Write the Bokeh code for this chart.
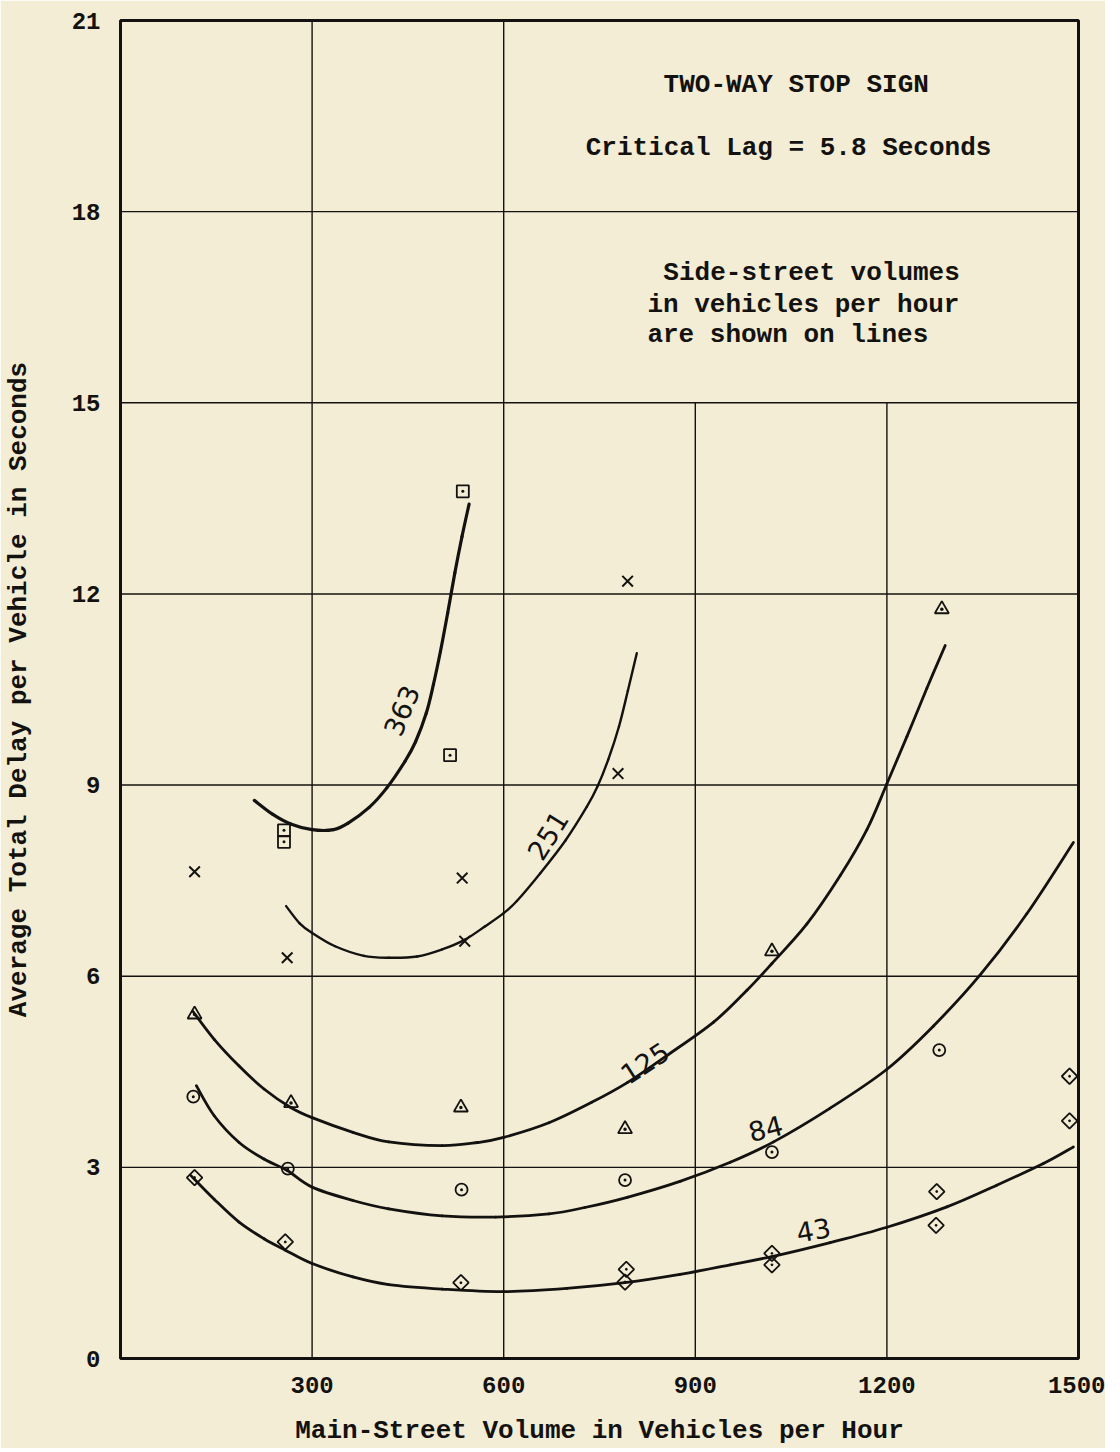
import math
from bokeh.plotting import figure
from bokeh.models import Range1d, FixedTicker, Label
from bokeh.embed import file_html
from bokeh.resources import INLINE

# ---------------- data ----------------
x_ticks = [300, 600, 900, 1200, 1500]
y_ticks = [0, 3, 6, 9, 12, 15, 18, 21]

# smooth curves (side-street volume on each line)
c363_x = [209.5, 238.5, 266.5, 300, 333.5, 355.9, 389.4, 417.3, 445.3, 462, 478.8, 490, 501, 512.3, 523.5, 534.7, 545.8]
c363_y = [8.76, 8.54, 8.39, 8.30, 8.30, 8.40, 8.65, 8.96, 9.37, 9.68, 10.13, 10.58, 11.10, 11.70, 12.33, 12.90, 13.41]

c251_x = [259.3, 280.5, 300, 336, 381, 420, 464.5, 503.5, 538.7, 570.4, 600, 620.6, 657.6, 696.7, 730.2, 747, 763.7, 780.5, 794.4, 808.4]
c251_y = [7.10, 6.83, 6.68, 6.47, 6.32, 6.29, 6.31, 6.42, 6.57, 6.78, 6.99, 7.18, 7.62, 8.13, 8.66, 8.98, 9.40, 9.92, 10.48, 11.07]

c125_x = [113.2, 146.7, 185.7, 224.7, 266.5, 300, 364, 420, 503.5, 559, 600, 670.8, 737.7, 793.5, 854.8, 928.7, 980.9, 1020, 1074.8, 1127, 1168.7, 1200, 1231.3, 1262.6, 1291.3]
c125_y = [5.45, 5.01, 4.59, 4.23, 3.94, 3.78, 3.55, 3.40, 3.34, 3.39, 3.47, 3.70, 4.02, 4.33, 4.75, 5.28, 5.78, 6.20, 6.82, 7.58, 8.30, 9.02, 9.76, 10.52, 11.19]

c84_x = [118.8, 146.7, 185.7, 224.7, 261, 300, 364, 420, 503.5, 587.2, 670.8, 727, 793.5, 876, 954.8, 1022.6, 1111.3, 1200, 1273, 1346, 1419, 1492]
c84_y = [4.28, 3.81, 3.39, 3.13, 2.95, 2.69, 2.48, 2.35, 2.24, 2.22, 2.27, 2.37, 2.53, 2.78, 3.08, 3.40, 3.93, 4.54, 5.22, 6.02, 6.98, 8.10]

c43_x = [110.4, 146.7, 185.7, 224.7, 258.2, 300, 364, 420, 503.5, 600, 698.7, 789.6, 876, 954.8, 1020, 1111.3, 1200, 1293.9, 1372, 1445, 1492]
c43_y = [2.87, 2.50, 2.14, 1.88, 1.70, 1.49, 1.28, 1.16, 1.09, 1.05, 1.10, 1.19, 1.32, 1.47, 1.60, 1.82, 2.06, 2.38, 2.72, 3.06, 3.32]

# observed points
sq_x = [256, 256, 516, 536]
sq_y = [8.29, 8.11, 9.47, 13.61]
xx_x = [116, 261, 535, 539, 779, 794]
xx_y = [7.64, 6.29, 7.54, 6.55, 9.18, 12.2]
tr_x = [116, 267, 533, 790, 1020, 1286]
tr_y = [5.40, 4.01, 3.94, 3.60, 6.39, 11.76]
ci_x = [114, 262, 534, 790, 1020, 1282]
ci_y = [4.11, 2.98, 2.65, 2.80, 3.24, 4.84]
di_x = [116, 258, 533, 792, 790, 1020, 1020, 1278, 1277, 1486, 1486]
di_y = [2.84, 1.83, 1.19, 1.40, 1.20, 1.65, 1.47, 2.62, 2.09, 4.43, 3.73]

# curve labels: text, x, y, angle (deg)
lab_text = ["363", "251", "125", "84", "43"]
lab_x = [440, 669, 821, 1010, 1085]
lab_y = [10.17, 8.21, 4.64, 3.61, 2.02]
lab_ang = [67, 58, 33, 14, 10]

BG = "#f2edd4"
INK = "#141210"
FONT = "Liberation Mono"

p = figure(frame_width=958, frame_height=1338,
           x_range=Range1d(0, 1500), y_range=Range1d(0, 21),
           output_backend="svg", toolbar_location=None,
           min_border_left=111, min_border_top=20,
           min_border_right=27, min_border_bottom=88)

p.background_fill_color = BG
p.border_fill_color = BG
p.outline_line_color = INK
p.outline_line_width = 3
p.xgrid.visible = False
p.ygrid.visible = False

for ax in (p.xaxis[0], p.yaxis[0]):
    ax.axis_line_color = None
    ax.major_tick_line_color = None
    ax.minor_tick_line_color = None
    ax.major_label_text_font = FONT
    ax.major_label_text_font_style = "bold"
    ax.major_label_text_font_size = "24px"
    ax.major_label_text_color = INK
    ax.axis_label_text_font = FONT
    ax.axis_label_text_font_style = "bold"
    ax.axis_label_text_font_size = "26px"
    ax.axis_label_text_color = INK

p.xaxis.ticker = FixedTicker(ticks=x_ticks)
p.yaxis.ticker = FixedTicker(ticks=y_ticks)
p.xaxis.axis_label = "Main-Street Volume in Vehicles per Hour"
p.yaxis.axis_label = "Average Total Delay per Vehicle in Seconds"
p.xaxis.major_label_standoff = 12
p.xaxis.axis_label_standoff = 20
p.yaxis.major_label_standoff = 14
p.yaxis.axis_label_standoff = 35

# grid lines drawn by hand (upper right panel is left open for the note box)
xmax = x_ticks[-1]
ymax = y_ticks[-1]
gx = x_ticks[:-1]
gx_top = [ymax if v <= 600 else 15 for v in gx]
p.segment(x0=gx, y0=[0] * len(gx), x1=gx, y1=gx_top, line_color=INK, line_width=1.4)
gy = y_ticks[1:-1]
p.segment(x0=[0] * len(gy), y0=gy, x1=[xmax] * len(gy), y1=gy, line_color=INK, line_width=1.4)


def smooth_curve(xs, ys, width):
    """Draw a smooth curve through the read points (Catmull-Rom as cubic Beziers)."""
    n = len(xs)
    x0, y0, x1, y1, cx0, cy0, cx1, cy1 = [], [], [], [], [], [], [], []
    for i in range(n - 1):
        im = max(i - 1, 0)
        ip2 = min(i + 2, n - 1)
        x0.append(xs[i]); y0.append(ys[i])
        x1.append(xs[i + 1]); y1.append(ys[i + 1])
        cx0.append(xs[i] + (xs[i + 1] - xs[im]) / 6.0)
        cy0.append(ys[i] + (ys[i + 1] - ys[im]) / 6.0)
        cx1.append(xs[i + 1] - (xs[ip2] - xs[i]) / 6.0)
        cy1.append(ys[i + 1] - (ys[ip2] - ys[i]) / 6.0)
    p.bezier(x0=x0, y0=y0, x1=x1, y1=y1, cx0=cx0, cy0=cy0, cx1=cx1, cy1=cy1,
             line_color=INK, line_width=width, line_cap="round")


for cx, cy, w in [(c363_x, c363_y, 3.2), (c251_x, c251_y, 2.4), (c125_x, c125_y, 2.8),
                  (c84_x, c84_y, 2.8), (c43_x, c43_y, 2.8)]:
    smooth_curve(cx, cy, w)

# points
p.scatter(sq_x, sq_y, marker="square_dot", size=12, fill_color=None, line_color=INK, line_width=1.8)
p.scatter(xx_x, xx_y, marker="x", size=15, line_color=INK, line_width=2)
p.scatter(tr_x, tr_y, marker="triangle_dot", size=14, fill_color=None, line_color=INK, line_width=1.8)
p.scatter(ci_x, ci_y, marker="circle_dot", size=12, fill_color=None, line_color=INK, line_width=1.8)
p.scatter(di_x, di_y, marker="square_dot", angle=math.pi / 4, size=11, fill_color=None, line_color=INK, line_width=1.8)

for t, x, y, a in zip(lab_text, lab_x, lab_y, lab_ang):
    p.add_layout(Label(x=x, y=y, text=t, angle=math.radians(a), text_align="center",
                       text_baseline="middle", text_font="DejaVu Sans", text_font_size="27px",
                       text_color=INK))

# note box texts
notes = [
    ("TWO-WAY STOP SIGN", 1058, 19.98, "center"),
    ("Critical Lag = 5.8 Seconds", 1046, 19.0, "center"),
    ("Side-street volumes", 850, 17.03, "left"),
    ("in vehicles per hour", 825, 16.53, "left"),
    ("are shown on lines", 825, 16.06, "left"),
]
for t, x, y, al in notes:
    p.add_layout(Label(x=x, y=y, text=t, text_align=al, text_baseline="middle",
                       text_font=FONT, text_font_style="bold", text_font_size="26px",
                       text_color=INK))

open("out.html", "w").write(file_html(p, INLINE))
